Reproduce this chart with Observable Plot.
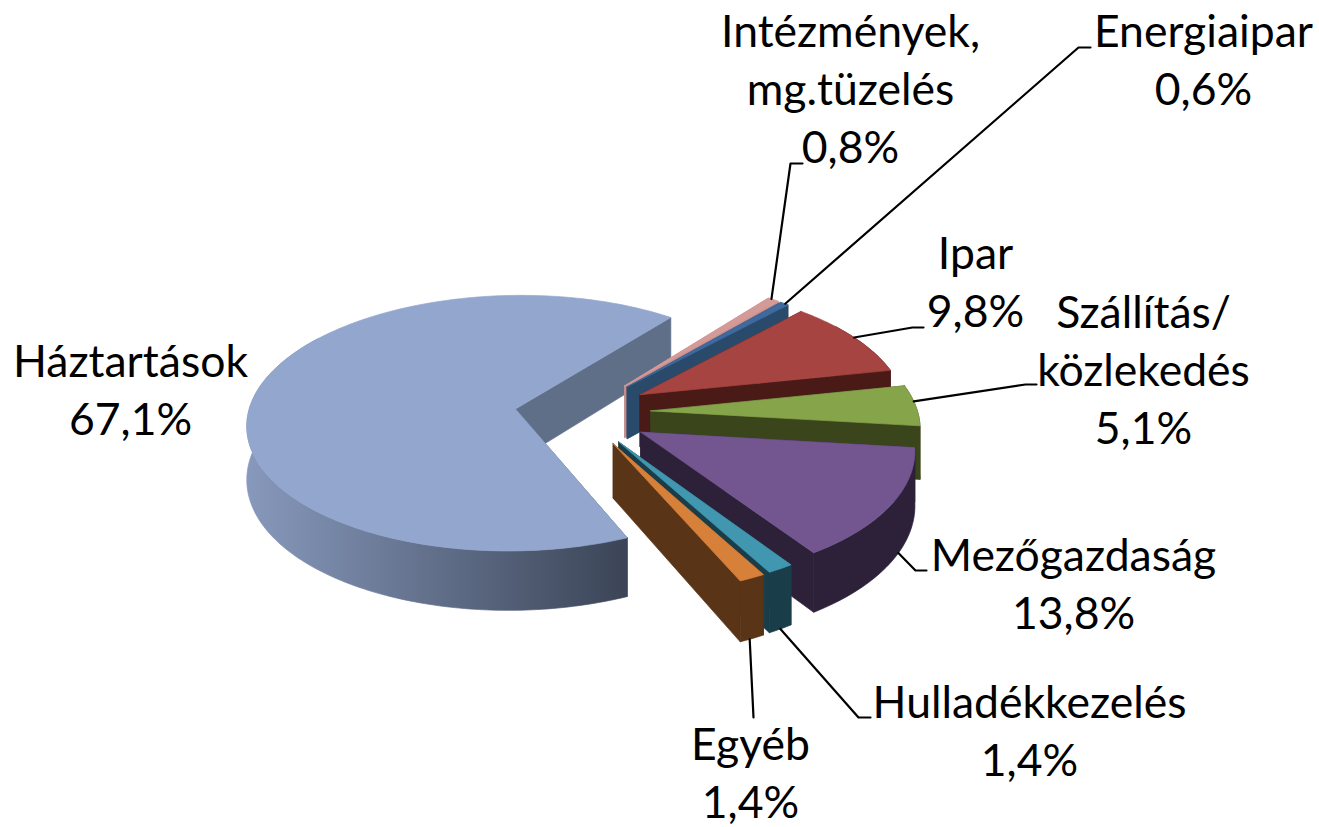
<!DOCTYPE html>
<html>
<head>
<meta charset="utf-8">
<script src="https://cdn.jsdelivr.net/npm/d3@7"></script>
<script src="https://cdn.jsdelivr.net/npm/@observablehq/plot@0.6"></script>
<style>html,body{margin:0;padding:0;background:#fff}svg{display:block}</style>
</head>
<body>
<div id="chart"></div>
<script>
// data (clockwise, from the top of the pie)
const categories = ["Intézmények,\nmg.tüzelés", "Energiaipar", "Ipar", "Szállítás/\nközlekedés", "Mezőgazdaság", "Hulladékkezelés", "Egyéb", "Háztartások"];
const shares = [0.8, 0.6, 9.8, 5.1, 13.8, 1.4, 1.4, 67.1];
const explosion = [0.29, 0.29, 0.29, 0.29, 0.29, 0.28, 0.28, 0.22];
const explosionTurn = [3, 3, 0, 0, 0, -5, -5, 0];
const topColors = ["#D49A98", "#3E6A9F", "#A54441", "#86A44A", "#73568F", "#4197B0", "#D6803A", "#92A6CE"];
const wallColors = ["#C48F8D", "#2A4A6B", "#4A1A17", "#3A451C", "#2C2139", "#1A3D4A", "#593416", "#5F6F87"];
const drawOrder = [7, 0, 1, 2, 3, 4, 5, 6];

// label layout: centre x, baseline of the last line
const labelX = [850, 1203, 975, 1143, 1073, 1029, 750, 130];
const labelY = [162, 104, 326, 443, 628, 775, 817, 434];
// leader layout: position along the slice's arc, fraction of wall depth, elbow, end
const leaderArc = [0.3, 0.6, 0.5, 0.4, 0.42, 0.5, 0.6, null];
const leaderDrop = [0, 0, 0, 0, 1, 1, 1, null];
const leaderElbow = [[790,163],[1078,47],[912,327],[1025,384],[915,570],[858,717],[753,717],null];
const leaderEnd = [[802,163],[1090,47],[923,327],[1036,384],[926,570],[870,717],null,null];

// pie model
const firstAngle = -52, Cx = 573, Cy = 412, Rx = 267, Ry = 127, persp = 0.111, depth = 53;
const rad = d => d * Math.PI / 180;
function project(X, Y, drop = 0) {
  const s = 1 / (1 - persp * Y);
  return {x: Cx + Rx * X * s, y: Cy + Ry * Y * s + drop * depth * s};
}
const total = d3.sum(shares);
let running = firstAngle;
const slices = shares.map((v, i) => {
  const a0 = running, a1 = running + v / total * 360;
  running = a1;
  const mid = rad((a0 + a1) / 2 + explosionTurn[i]);
  return {i, a0, a1, ox: explosion[i] * Math.cos(mid), oy: explosion[i] * Math.sin(mid)};
});
const rim = (s, a, drop = 0) => project(s.ox + Math.cos(rad(a)), s.oy + Math.sin(rad(a)), drop);
const tip = (s, drop = 0) => project(s.ox, s.oy, drop);
const arcAngles = s => {
  const out = d3.range(s.a0, s.a1, 1);
  out.push(s.a1);
  return out;
};

const marks = [];
const poly = (pts, color) => marks.push(Plot.line([...pts, pts[0]], {x: "x", y: "y", fill: color, stroke: color, strokeWidth: 0.7, curve: "linear"}));

// wall shading of the largest slice
marks.push(() => {
  const defs = d3.create("svg:defs");
  const g = defs.append("linearGradient").attr("id", "mainWall").attr("gradientUnits", "userSpaceOnUse")
    .attr("x1", 246).attr("x2", 632).attr("y1", 0).attr("y2", 0);
  g.append("stop").attr("offset", 0).attr("stop-color", "#8799BC");
  g.append("stop").attr("offset", 1).attr("stop-color", "#3A4355");
  return defs.node();
});

for (const idx of drawOrder) {
  const s = slices[idx], wall = wallColors[idx], angles = arcAngles(s), isMain = idx === 7;
  for (const a of [s.a0, s.a1]) poly([tip(s), rim(s, a), rim(s, a, 1), tip(s, 1)], wall);
  const facing = angles.filter(a => Math.sin(rad(a)) > -0.6);
  if (facing.length > 1) {
    poly([...facing.map(a => rim(s, a)), ...facing.slice().reverse().map(a => rim(s, a, 1))], isMain ? "url(#mainWall)" : wall);
  }
  poly([tip(s), ...angles.map(a => rim(s, a))], topColors[idx]);
}

// leaders
slices.forEach((s, i) => {
  if (!leaderElbow[i]) return;
  const a = s.a0 + (s.a1 - s.a0) * leaderArc[i];
  const pts = [rim(s, a, leaderDrop[i]), {x: leaderElbow[i][0], y: leaderElbow[i][1]}];
  if (leaderEnd[i]) pts.push({x: leaderEnd[i][0], y: leaderEnd[i][1]});
  marks.push(Plot.line(pts, {x: "x", y: "y", stroke: "#000", strokeWidth: 2.2, curve: "linear"}));
});

// labels
const labels = categories.map((c, i) => ({text: `${c}\n${d3.format(".1f")(shares[i]).replace(".", ",")}%`, x: labelX[i], y: labelY[i]}));
marks.push(Plot.text(labels, {x: "x", y: "y", text: "text", textAnchor: "middle", lineAnchor: "bottom", lineHeight: 1.303, fill: "#000", fontSize: 44.5, fontFamily: "Lato"}));

document.getElementById("chart").append(Plot.plot({
  width: 1319, height: 827, margin: 0,
  x: {domain: [0, 1319], range: [0, 1319], axis: null},
  y: {domain: [0, 827], range: [0, 827], axis: null},
  style: {background: "#fff"},
  marks
}));
</script>
</body>
</html>
